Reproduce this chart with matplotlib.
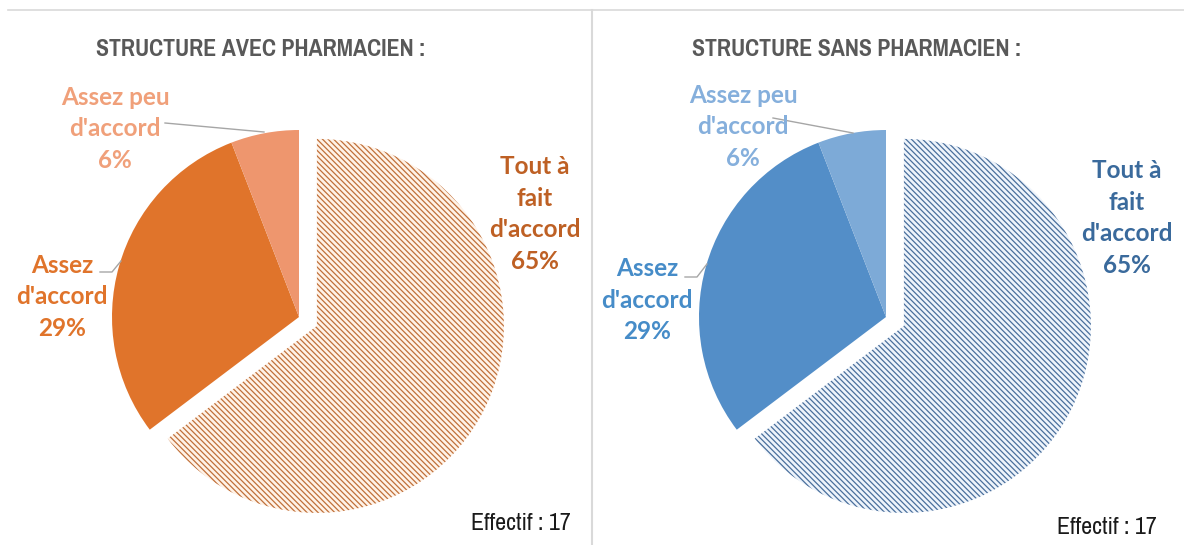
import matplotlib.pyplot as plt
from matplotlib import font_manager as fm

# ---- data ---------------------------------------------------------------
counts = [11, 5, 1]          # effectif 17
pct_labels = ["65%", "29%", "6%"]
cat_labels = ["Tout à\nfait\nd'accord", "Assez\nd'accord", "Assez peu\nd'accord"]
titles = ["STRUCTURE AVEC PHARMACIEN :", "STRUCTURE SANS PHARMACIEN :"]
effectif = "Effectif : 17"

orange = {"slices": ["#FFF3E8", "#E0742B", "#EE966E"], "hatch": "#C0703A",
          "text": ["#BE6024", "#E0742B", "#F0A07A"]}
blue = {"slices": ["#EEF4FB", "#538EC8", "#7DAAD7"], "hatch": "#4A6F9C",
        "text": ["#3A6A9C", "#468CC8", "#85AFDC"]}

plt.rcParams["hatch.linewidth"] = 0.9


def find_narrow(bold):
    # look for any condensed / narrow face installed
    cands = []
    for f in fm.fontManager.ttflist:
        tag = (f.name + " " + f.fname).lower()
        if "narrow" in tag or "condensed" in tag or f.stretch in ("condensed", "semi-condensed"):
            isbold = f.weight in ("bold", 700) or "bold" in f.fname.lower()
            if isbold == bold and "oblique" not in f.fname.lower() and "italic" not in f.fname.lower():
                cands.append(f.fname)
    if cands:
        cands.sort(key=lambda s: ("narrow" not in s.lower(), len(s)))
        return fm.FontProperties(fname=cands[0])
    return fm.FontProperties(family="DejaVu Sans", weight="bold" if bold else "normal")


title_fp = find_narrow(True)
eff_fp = find_narrow(False)
lab_font = ["Lato", "DejaVu Sans"]

fig = plt.figure(figsize=(11.84, 5.45), dpi=100)
ax = fig.add_axes([0, 0, 1, 1])

H = 545
R = 187
panels = [
    dict(center=(299, H - 317), pal=orange, title_x=261, eff=(521, 523),
         lab=[(535, 214), (62, 297), (115, 129)],
         lead=[None, [(100, 272), (112, 272), (121, 261)], [(165, 123), (264, 132)]]),
    dict(center=(886, H - 317), pal=blue, title_x=857, eff=(1107, 528),
         lab=[(1127, 218), (647, 300), (743, 127)],
         lead=[None, [(685, 277), (697, 277), (707, 264)], [(773, 118), (853, 133)]]),
]

title_texts, eff_texts = [], []
for p, title in zip(panels, titles):
    pal = p["pal"]
    wedges, _ = ax.pie(counts, colors=pal["slices"], startangle=90, counterclock=False,
                       explode=[20, 0, 0], radius=R, center=p["center"],
                       wedgeprops=dict(linewidth=0))
    wedges[0].set_hatch("\\" * 6)
    wedges[0].set_edgecolor(pal["hatch"])
    wedges[0].set_linewidth(0)
    for i in range(3):
        x, y = p["lab"][i]
        ax.text(x, H - y, cat_labels[i] + "\n" + pct_labels[i], ha="center", va="center",
                color=pal["text"][i], fontsize=17.5, fontweight="bold",
                family=lab_font, linespacing=1.45)
        if p["lead"][i]:
            xs, ys = zip(*p["lead"][i])
            ax.plot(xs, [H - v for v in ys], color="#A6A6A6", lw=1)
    title_texts.append(ax.text(p["title_x"], H - 49, title, ha="center", va="center",
                               color="#595959", fontproperties=title_fp.copy()))
    eff_texts.append(ax.text(p["eff"][0], H - p["eff"][1], effectif, ha="center",
                             va="center", color="#1A1A1A", fontproperties=eff_fp.copy()))

# frame lines
ax.plot([8, 1184], [H - 10, H - 10], color="#D9D9D9", lw=1.2)
ax.plot([592, 592], [H - 10, 0], color="#D9D9D9", lw=1.5)

ax.set_xlim(0, 1184)
ax.set_ylim(0, H)
ax.set_aspect("equal")
ax.axis("off")

# fit the condensed titles to the width they take in the original
fig.canvas.draw()
rend = fig.canvas.get_renderer()
for group, target, cap in ((title_texts, 330, 30), (eff_texts, 100, 26)):
    for t in group:
        t.set_fontsize(20)
        w = t.get_window_extent(rend).width
        t.set_fontsize(min(20 * target / w, cap))

fig.savefig("out.png", dpi=100)
